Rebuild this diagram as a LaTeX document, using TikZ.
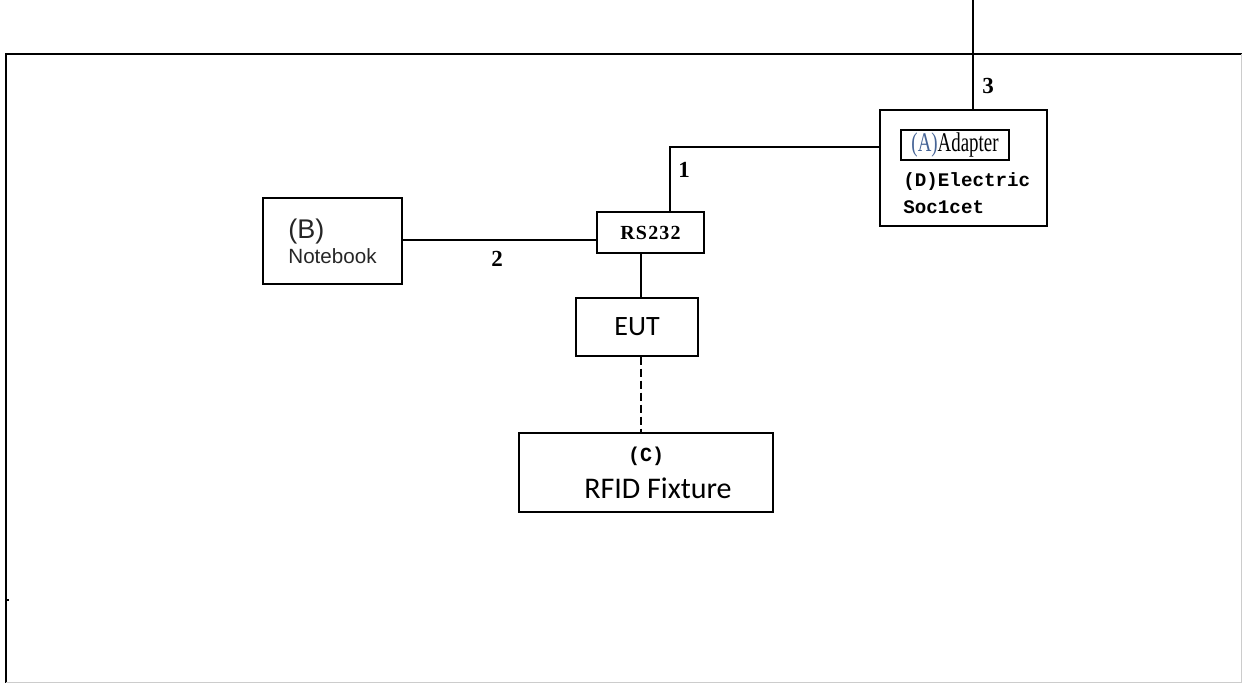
\documentclass[tikz,border=0pt]{standalone}
\usepackage{fontspec}
\setmainfont{Liberation Serif}
\setmonofont{Liberation Mono}
\newfontfamily\arialfont{Liberation Sans}
\newfontfamily\calfont{Carlito}
\newfontfamily\wideserif{Liberation Serif}[LetterSpace=6]
\usepackage{xcolor}
\usepackage{tikz}
\usetikzlibrary{positioning,calc}

\definecolor{labblue}{RGB}{70,100,150}
\tikzset{
  unit/.style={draw, line width=0.7pt, inner sep=0pt, minimum width=#1},
  wire/.style={line width=0.7pt},
  num/.style={font=\bfseries\fontsize{11.5}{11.5}\selectfont, inner sep=0pt}
}

\begin{document}
\begin{tikzpicture}[x=0.5pt, y=-0.5pt, line join=miter]
\useasboundingbox (0,0) rectangle (1242,683);
% frame
\draw[wire] (6,683) -- (6,54) -- (1242,54);
\draw[wire] (6,600) -- (9,600);
\draw[gray!40] (1241,54) -- (1241,682) -- (6,682);
% boxes
\node[unit=83.5pt, minimum height=58pt] (socket) at (963.5,168) {};
\node[unit=54pt, minimum height=15pt, font=\fontsize{13.5}{13.5}\selectfont] (adapter) at (955,145)
  {\scalebox{0.7}[1]{\textcolor{labblue}{(A)}Adapter}};
\node[anchor=west, align=left, inner sep=0pt, font=\ttfamily\bfseries\fontsize{9.6}{13.5}\selectfont] (dtext) at (903,193)
  {(D)Electric\\Soc1cet};
\node[unit=53.5pt, minimum height=20.5pt, font=\wideserif\bfseries\fontsize{10}{10}\selectfont] (rs) at (650.5,232.5) {RS232};
\node[unit=69.5pt, minimum height=43pt, align=left, text=black!85] (notebook) at (332.5,241)
  {{\arialfont\fontsize{13.5}{13.5}\selectfont (B)}\\[0.5pt]{\arialfont\fontsize{10.3}{12}\selectfont Notebook}};
\node[unit=61pt, minimum height=29pt, font=\calfont\fontsize{14}{14}\selectfont] (eut) at (637,327) {EUT};
\node[unit=127pt, minimum height=39.5pt, align=center] (fixture) at (646,472.5)
  {{\ttfamily\bfseries\fontsize{10}{10}\selectfont (C)}\\[5pt]{\calfont\fontsize{15}{15}\selectfont \hspace*{12pt}RFID Fixture}};
% cables
\coordinate (mains) at (973,0);
\coordinate (bend) at (670,147);
\coordinate (port) at (597,240);
\draw[wire] (mains) -- (mains |- socket.north);
\draw[wire] (socket.west |- bend) -- (bend) -- (bend |- rs.north);
\draw[wire] (notebook.east |- port) -- (port);
\draw[wire] ([xshift=-4.75pt]rs.south) -- ([xshift=2pt]eut.north);
\draw[line width=0.9pt, dash pattern=on 4pt off 2pt] ([xshift=2pt]eut.south) -- ([xshift=-2.5pt]fixture.north);
% cable numbers
\node[num] (n1) at (684,170) {1};
\node[num] (n2) at (497,259) {2};
\node[num] (n3) at (988,86) {3};
\end{tikzpicture}
\end{document}
